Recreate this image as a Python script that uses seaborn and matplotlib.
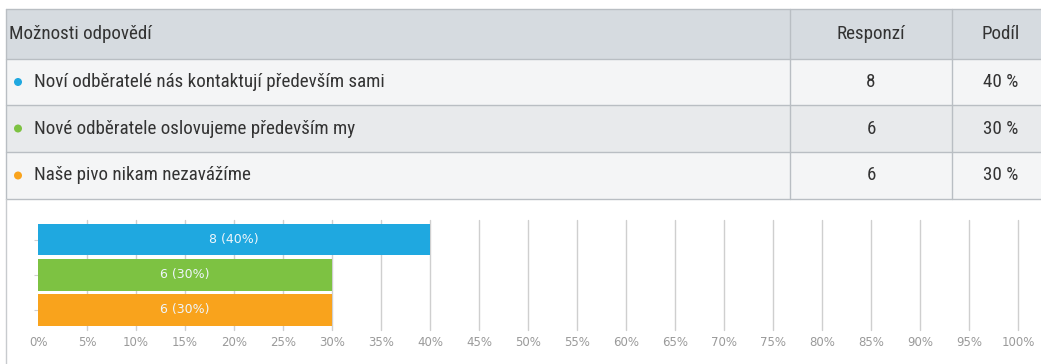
import matplotlib
matplotlib.use("Agg")
import matplotlib.pyplot as plt
from matplotlib.patches import Rectangle, Circle
from matplotlib import font_manager
import seaborn as sns
import pandas as pd

# Survey data
options = [
    "Noví odběratelé nás kontaktují především sami",
    "Nové odběratele oslovujeme především my",
    "Naše pivo nikam nezavážíme",
]
counts = [8, 6, 6]
colors = ["#1fa8e0", "#7dc242", "#f9a31c"]
header = ["Možnosti odpovědí", "Responzí", "Podíl"]
tick_values = list(range(0, 101, 5))

total = sum(counts)
shares = [c / total * 100 for c in counts]

sns.set_theme(style="white")
plt.rcParams["font.family"] = ["DejaVu Sans"]


def pick_table_font():
    """Prefer a narrow face for the table text, fall back to Roboto."""
    tries = [("Ubuntu Condensed", "normal"), ("Roboto Condensed", "normal"),
             ("Liberation Sans Narrow", "normal"),
             ("DejaVu Sans", "condensed")]
    for fam, stretch in tries:
        try:
            path = font_manager.findfont(
                font_manager.FontProperties(family=fam, stretch=stretch),
                fallback_to_default=False)
        except Exception:
            continue
        name = path.lower().replace(" ", "")
        key = fam.lower().split()[-1]
        if key in name or "condensed" in name or "narrow" in name:
            return dict(family=[fam, "DejaVu Sans"], stretch=stretch)
    return dict(family=["Roboto", "DejaVu Sans"], stretch="normal")


tfont = pick_table_font()

W, H = 1041, 364
fig = plt.figure(figsize=(W / 100, H / 100), dpi=100)
fig.patch.set_facecolor("white")

# Background layer in pixel coordinates for the table
bg = fig.add_axes([0, 0, 1, 1])
bg.set_xlim(0, W)
bg.set_ylim(H, 0)
bg.axis("off")

# Fit the table font size so the longest option fills its measured width
renderer = fig.canvas.get_renderer()
probe = bg.text(0, 0, options[0], fontsize=12, **tfont)
wpx = probe.get_window_extent(renderer).width
probe.remove()
fs = min(14.5, 12 * 350 / wpx)

border = "#b9bec3"
left, right = 6, 1041
col1, col2 = 790, 952
row_edges = [9, 59, 105, 152, 199]
row_fills = ["#d6dbe0", "#f4f5f6", "#e8eaec", "#f4f5f6"]
for i, fc in enumerate(row_fills):
    bg.add_patch(Rectangle((left, row_edges[i]), right - left,
                           row_edges[i + 1] - row_edges[i],
                           facecolor=fc, edgecolor="none"))
for y in row_edges:
    bg.plot([left, right], [y, y], color=border, lw=1)
for x in (left, col1, col2):
    bg.plot([x, x], [row_edges[0], row_edges[-1]], color=border, lw=1)
# left border continues around the chart area
bg.plot([left, left], [row_edges[-1], H], color="#c8cbce", lw=1)

text_color = "#333333"
hy = (row_edges[0] + row_edges[1]) / 2
bg.text(9, hy, header[0], va="center", ha="left", fontsize=fs,
        color=text_color, **tfont)
bg.text((col1 + col2) / 2, hy, header[1], va="center", ha="center",
        fontsize=fs, color=text_color, **tfont)
bg.text(1001, hy, header[2], va="center", ha="center", fontsize=fs,
        color=text_color, **tfont)

for i, (opt, cnt, sh, c) in enumerate(zip(options, counts, shares, colors)):
    cy = (row_edges[i + 1] + row_edges[i + 2]) / 2
    bg.add_patch(Circle((18, cy), 4, facecolor=c, edgecolor="none"))
    bg.text(34, cy, opt, va="center", ha="left", fontsize=fs,
            color=text_color, **tfont)
    bg.text((col1 + col2) / 2, cy, f"{cnt}", va="center", ha="center",
            fontsize=fs, color=text_color, **tfont)
    bg.text(1001, cy, f"{sh:.0f} %", va="center", ha="center",
            fontsize=fs, color=text_color, **tfont)

# Bar chart area
x0, x1 = 38, 1018
y_top, y_bot = 220, 330
ax = fig.add_axes([x0 / W, 1 - y_bot / H, (x1 - x0) / W, (y_bot - y_top) / H])
df = pd.DataFrame({"option": options, "share": shares})
sns.barplot(data=df, x="share", y="option", hue="option", palette=colors,
            orient="h", width=0.9, legend=False, ax=ax, zorder=3,
            edgecolor="none", saturation=1)
ax.set_xlim(0, 100)
ax.set_ylim(2.57, -0.557)
ax.set_xticks(tick_values)
ax.set_xticklabels([f"{v}%" for v in tick_values], fontsize=8.5, color="#9a9a9a")
ax.set_yticks([0, 1, 2])
ax.set_yticklabels([])
ax.tick_params(axis="y", length=3, color="#d0d0d0", width=0.8, left=True)
ax.tick_params(axis="x", length=0, pad=4)
ax.grid(axis="x", color="#cfcfcf", lw=1, zorder=0)
ax.grid(axis="y", visible=False)
for gl in ax.get_xgridlines():
    gl.set_clip_on(False)
ax.get_xgridlines()[0].set_visible(False)
for s in ax.spines.values():
    s.set_visible(False)
ax.set_xlabel("")
ax.set_ylabel("")
ax.set_facecolor("none")

for i, (cnt, sh) in enumerate(zip(counts, shares)):
    ax.text(sh / 2, i, f"{cnt} ({sh:.0f}%)", ha="center", va="center",
            color="#eef6fb", fontsize=9, zorder=4)

fig.savefig("out.png", dpi=100, facecolor="white")
